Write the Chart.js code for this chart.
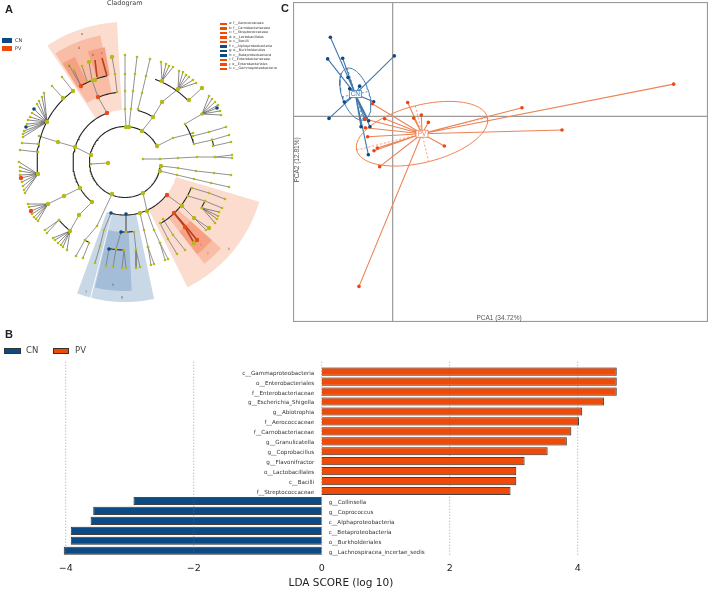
<!DOCTYPE html>
<html>
<head>
<meta charset="utf-8">
<title>Cladogram, LDA and PCA</title>
<script src="https://cdn.jsdelivr.net/npm/chart.js@4/dist/chart.umd.min.js"></script>
<style>
  html, body { margin: 0; padding: 0; background: #fff; overflow: hidden; }
  #page { position: relative; width: 709px; height: 590px; font-family: "DejaVu Sans", sans-serif; }
  canvas, .txt, .box { position: absolute; }
  .txt { white-space: nowrap; line-height: 1; }
  .panel { font: bold 11px "Liberation Sans", sans-serif; color: #222; }
</style>
</head>
<body>
<div id="page">
  <canvas id="cladoChart" width="290" height="320" style="left:0;top:0"></canvas>
  <canvas id="pcaChart" width="415" height="320" style="left:293px;top:2px"></canvas>
  <canvas id="ldaChart" width="709" height="265" style="left:0;top:325px"></canvas>
</div>
<script>
// --- LDA scores (panel B) ---
const pvTaxa = ["c__Gammaproteobacteria", "o__Enterobacteriales", "f__Enterobacteriaceae", "g__Escherichia_Shigella",
  "g__Abiotrophia", "f__Aerococcaceae", "f__Carnobacteriaceae", "g__Granulicatella", "g__Coprobacillus",
  "g__Flavonifractor", "o__Lactobacillales", "c__Bacilli", "f__Streptococcaceae"];
const pvScores = [4.61, 4.61, 4.61, 4.41, 4.07, 4.02, 3.90, 3.83, 3.53, 3.17, 3.04, 3.04, 2.95];
const cnTaxa = ["g__Collinsella", "g__Coprococcus", "c__Alphaproteobacteria", "c__Betaproteobacteria",
  "o__Burkholderiales", "g__Lachnospiracea_incertae_sedis"];
const cnScores = [-2.94, -3.57, -3.61, -3.92, -3.92, -4.03];

// --- PCA scores (panel C) ---
const cnPoints = [[-1.87, 2.38], [-1.95, 1.73], [-1.50, 1.75], [0.05, 1.82], [-1.34, 1.17], [-0.99, 0.91], [-1.29, 0.83],
  [-0.57, 0.44], [-1.45, 0.43], [-1.91, -0.06], [-0.84, -0.08], [-0.72, -0.13], [-0.95, -0.31], [-0.68, -0.31], [-0.73, -1.15]];
const pvPoints = [[0.45, 0.42], [0.86, 0.04], [0.63, -0.05], [1.07, -0.18], [1.55, -0.89], [3.88, 0.26], [8.43, 0.97],
  [5.08, -0.41], [-0.61, 0.38], [-0.24, -0.07], [-0.83, -0.08], [-0.82, -0.34], [-0.75, -0.61], [-0.46, -0.95],
  [-0.56, -1.03], [-0.39, -1.51], [-1.01, -5.11]];
const cnCentre = [-1.12, 0.67];
const pvCentre = [0.88, -0.52];
const cnAxes = [[0.24, -0.78], [0.40, 0.08]];
const pvAxes = [[1.96, 0.49], [0.20, -0.84]];

// --- Cladogram (panel A); y runs downwards ---
const cladoCentre = [125, 162];
// radius, start and end angle in degrees clockwise from the top
const cladoArcs = [[35.5, 98, 425], [52, 219.5, 340], [53, 128, 195], [53, 14, 32], [88, 262, 324], [88, 20, 46], [71, 57, 75],
  [70, 337, 354], [88, 330, 348], [88, 218.6, 228.7], [71, 111, 150], [70, 172.7, 183], [88, 180.6, 190.4],
  [88, 204, 207], [89, 116, 121], [90, 75, 80]];
const cladoBranches = [
  [[126, 127], [125, 109], [125, 91], [125, 74], [125, 55]],
  [[129, 127], [131, 109], [133, 91], [135, 74], [137, 57]],
  [[142, 131], [153, 117], [162, 102], [178, 89]],
  [[138, 109], [142, 93], [146, 76], [150, 59]],
  [[189, 100], [202, 88]],
  [[157, 146], [173, 138], [193, 133]],
  [[185, 124], [202, 114]],
  [[193, 136], [209, 132], [226, 127]],
  [[194, 144], [212, 140], [229, 135]],
  [[213, 146], [231, 142]],
  [[143, 159], [160, 159], [178, 158], [197, 157], [215, 157], [232, 155]],
  [[215, 157], [232, 158]],
  [[161, 166], [178, 168], [196, 171], [214, 173], [231, 175]],
  [[160, 171], [177, 175], [194, 179], [211, 183], [229, 187]],
  [[91, 164], [108, 163]],
  [[91, 155], [75, 147], [58, 142], [39, 136]],
  [[63, 98], [52, 86]],
  [[73, 91], [62, 77]],
  [[38, 144], [22, 143]],
  [[38, 152], [20, 150]],
  [[80, 188], [64, 196], [48, 204]],
  [[92, 202], [79, 215], [70, 231]],
  [[59, 220], [45, 230]],
  [[59, 220], [47, 233]],
  [[112, 194], [97, 226], [85, 240]],
  [[85, 240], [76, 256]],
  [[89, 243], [83, 258]],
  [[111, 213], [104, 230], [100, 246], [95, 263]],
  [[143, 193], [147, 211], [154, 230], [160, 243], [165, 260]],
  [[160, 243], [168, 259]],
  [[140, 213], [144, 230], [148, 247], [151, 265]],
  [[148, 247], [154, 264]],
  [[126, 214], [126, 232]],
  [[121, 232], [116, 249]],
  [[134, 232], [136, 250], [140, 267]],
  [[136, 250], [136, 268]],
  [[109, 249], [106, 266]],
  [[116, 249], [113, 267]],
  [[124, 250], [122, 268]],
  [[124, 250], [126, 268]],
  [[167, 195], [182, 206], [194, 218], [209, 228]],
  [[194, 218], [206, 230]],
  [[160, 223], [168, 239], [177, 254]],
  [[163, 219], [173, 235], [185, 250]],
  [[192, 188], [209, 193], [225, 199]],
  [[188, 196], [205, 201]],
  [[205, 201], [222, 208]],
  [[107, 113], [98, 97]],
  [[98, 97], [92, 80]],
  [[117, 92], [115, 74], [112, 57]],
  [[81, 86], [69, 65]],
  [[81, 86], [74, 70]],
  [[92, 80], [89, 62]],
  [[87, 81], [82, 66]]
];
// first point of each fan is its hub
const cladoFans = [
  [[162, 81], [161, 62], [166, 64], [169, 66], [173, 67]],
  [[178, 89], [179, 71], [183, 72], [186, 75], [189, 77], [193, 80], [196, 83]],
  [[202, 114], [209, 96], [212, 99], [215, 102], [218, 105], [217, 108], [220, 111], [221, 115]],
  [[47, 122], [44, 93], [42, 97], [39, 101], [37, 104], [34, 109], [32, 113], [30, 117], [28, 120], [27, 124], [26, 127], [24, 131], [23, 134], [23, 137]],
  [[38, 174], [19, 162], [20, 167], [20, 171], [20, 175], [21, 178], [22, 182], [23, 186], [24, 190], [25, 193]],
  [[48, 204], [28, 204], [29, 207], [31, 211], [32, 214], [34, 217], [36, 219], [38, 221]],
  [[70, 231], [53, 238], [55, 240], [58, 243], [61, 245], [63, 247], [67, 250]],
  [[202, 208], [219, 212], [218, 216], [217, 219], [215, 223]]
];
const cladoRedBranches = [
  [[97, 77], [95, 60]],
  [[107, 76], [102, 58]],
  [[174, 213], [185, 227], [194, 243]],
  [[174, 213], [188, 229], [197, 240]]
];
const cladoBigNodes = [[126, 127], [129, 127], [142, 131], [157, 146], [91, 155], [161, 166], [160, 171], [112, 194], [143, 193],
  [75, 147], [58, 142], [47, 122], [38, 174], [48, 204], [70, 231], [92, 202], [80, 188], [153, 117], [162, 102], [162, 81],
  [178, 89], [189, 100], [202, 88], [108, 163], [64, 196], [79, 215], [209, 228], [182, 206], [194, 218], [194, 243],
  [147, 211], [140, 213], [73, 91], [63, 98], [95, 80], [89, 62], [112, 57]];
const cladoRedNodes = [[107, 113], [98, 97], [81, 86], [167, 195], [174, 213], [185, 227], [197, 240], [21, 178], [31, 211]];
const cladoNavyNodes = [[34, 109], [26, 127], [217, 108], [111, 213], [126, 214], [121, 232], [109, 249]];
// r0, r1, a0, a1, level (0 light .. 2 dark)
const redWedges = [[52, 140, 326.3, 356.7, 0], [70, 129, 327.3, 349, 1], [88, 116.5, 327.5, 334.5, 2], [88, 116.5, 341.4, 350, 2],
  [53, 140, 106.5, 153.5, 0], [70, 129, 132, 142, 1], [88, 117, 132, 142, 2]];
const blueWedges = [[53, 140, 168, 194, 0], [53, 140, 194.4, 200, 0], [70, 129, 177, 193.5, 1]];
const wedgeLetters = [["e", 82, 34], ["d", 79, 48], ["a", 69, 66], ["b", 93, 55], ["c", 102, 53], ["f", 86, 292], ["g", 122, 297],
  ["h", 113, 285], ["k", 229, 249], ["j", 208, 253], ["i", 201, 245]];

const legendLetters = ["a", "b", "c", "d", "e", "f", "g", "h", "i", "j", "k"];
const legendNames = ["f__Aerococcaceae", "f__Carnobacteriaceae", "f__Streptococcaceae", "o__Lactobacillales", "c__Bacilli",
  "c__Alphaproteobacteria", "o__Burkholderiales", "c__Betaproteobacteria", "f__Enterobacteriaceae", "o__Enterobacteriales",
  "c__Gammaproteobacteria"];
const legendGroups = ["PV", "PV", "PV", "PV", "PV", "CN", "CN", "CN", "PV", "PV", "PV"];

const NAVY = "#0c4a86";
const RED = "#f04a08";
const YELLOW = "#b5bb12";
const toXY = ([x, y]) => ({ x, y });

// --- Page text and legends ---
const page = document.getElementById("page");
function addText(text, x, y, css, cls) {
  const el = document.createElement("div");
  el.className = "txt " + (cls || "");
  el.textContent = text;
  el.style.cssText = `left:${x}px;top:${y}px;` + (css || "");
  page.appendChild(el);
}
function addBox(x, y, w, h, fill, border) {
  const el = document.createElement("div");
  el.className = "box";
  el.style.cssText = `left:${x}px;top:${y}px;width:${w}px;height:${h}px;background:${fill};` +
    (border ? `box-sizing:border-box;border:1px solid ${border};` : "");
  page.appendChild(el);
}
addText("A", 5, 3, "", "panel");
addText("B", 5, 328, "", "panel");
addText("C", 281, 2, "", "panel");
addText("Cladogram", 107, 0, "font-size:6.5px;color:#444;");

addBox(2, 38, 10, 4.5, NAVY);
addText("CN", 15, 37.5, "font-size:5px;color:#333;");
addBox(2, 46, 10, 4.5, RED);
addText("PV", 15, 45.5, "font-size:5px;color:#333;");

legendNames.forEach((name, i) => {
  const y = 22.6 + i * 4.5;
  addBox(220, y, 6.5, 2.8, legendGroups[i] === "CN" ? NAVY : RED);
  addText(legendLetters[i] + ": " + name, 229, y - 0.2, "font-size:3.4px;color:#333;");
});

addBox(4, 348, 17, 5.5, NAVY, "#333");
addText("CN", 26, 346, "font-size:8.5px;color:#444;");
addBox(53, 348, 16, 5.5, RED, "#333");
addText("PV", 75, 346, "font-size:8.5px;color:#444;");

// --- Panel A: cladogram ---
function polar(r, deg) {
  const t = deg * Math.PI / 180;
  return { x: cladoCentre[0] + r * Math.sin(t), y: cladoCentre[1] - r * Math.cos(t) };
}
function arcPoints(r, a0, a1) {
  const pts = [];
  for (let a = a0; a < a1; a += 2) pts.push(polar(r, a));
  pts.push(polar(r, a1));
  return pts;
}
function wedgeDataset([r0, r1, a0, a1, level], colours) {
  return {
    data: arcPoints(r1, a0, a1).concat(arcPoints(r0, a0, a1).reverse()),
    showLine: true, fill: "shape", backgroundColor: colours[level], borderWidth: 0, pointRadius: 0, order: 100 - level
  };
}
const fanSegments = cladoFans.flatMap(fan => fan.slice(1).map(leaf => [fan[0], leaf]));
const allBranches = cladoBranches.concat(fanSegments);
const lineSet = (data, color, width, order) => ({
  data, showLine: true, borderColor: color, borderWidth: width, pointRadius: 0, order
});

const redShades = ["#fbdccf", "#f9bda6", "#f6a184"];
const blueShades = ["#c9d8e7", "#a3bdd8", "#a3bdd8"];
const cladoDatasets = [
  ...redWedges.map(w => wedgeDataset(w, redShades)),
  ...blueWedges.map(w => wedgeDataset(w, blueShades)),
  ...cladoBranches.map(b => lineSet(b.map(toXY), "#777", 0.8, 20)),
  ...fanSegments.map(b => lineSet(b.map(toXY), "#555", 0.7, 20)),
  ...cladoRedBranches.map(b => lineSet(b.map(toXY), "#b8401c", 1.6, 15)),
  ...cladoArcs.map(a => lineSet(arcPoints(a[0], a[1], a[2]), "#222", 1.1, 10)),
  { data: allBranches.flat().map(toXY), pointRadius: 1.3, backgroundColor: YELLOW, borderWidth: 0, order: 5 },
  { data: cladoBigNodes.map(toXY), pointRadius: 2.2, backgroundColor: YELLOW, borderWidth: 0, order: 4 },
  { data: cladoRedNodes.map(toXY), pointRadius: 2.2, backgroundColor: "#e8481a", borderWidth: 0, order: 3 },
  { data: cladoNavyNodes.map(toXY), pointRadius: 1.8, backgroundColor: NAVY, borderWidth: 0, order: 3 }
];

const wedgeLetterPlugin = {
  id: "wedgeLetters",
  afterDatasetsDraw(chart) {
    const { ctx, scales } = chart;
    ctx.save();
    ctx.font = '3.5px "DejaVu Sans"';
    ctx.fillStyle = "#666";
    ctx.textAlign = "center";
    ctx.textBaseline = "middle";
    wedgeLetters.forEach(([t, x, y]) => ctx.fillText(t, scales.x.getPixelForValue(x), scales.y.getPixelForValue(y)));
    ctx.restore();
  }
};

new Chart(document.getElementById("cladoChart"), {
  type: "scatter",
  data: { datasets: cladoDatasets },
  options: {
    responsive: false,
    animation: false,
    layout: { autoPadding: false },
    plugins: { legend: { display: false }, tooltip: { enabled: false } },
    scales: {
      x: { type: "linear", min: 0, max: 290, display: false },
      y: { type: "linear", min: 0, max: 320, reverse: true, display: false }
    }
  },
  plugins: [wedgeLetterPlugin]
});

// --- Panel C: PCA ---
function ellipsePoints(c, [u, v]) {
  const pts = [];
  for (let i = 0; i <= 72; i++) {
    const t = i * Math.PI / 36;
    pts.push({ x: c[0] + u[0] * Math.cos(t) + v[0] * Math.sin(t), y: c[1] + u[1] * Math.cos(t) + v[1] * Math.sin(t) });
  }
  return pts;
}
function groupSets(points, centre, axes, lineColor, pointColor) {
  const dashed = vec => ({
    data: [{ x: centre[0] - vec[0], y: centre[1] - vec[1] }, { x: centre[0] + vec[0], y: centre[1] + vec[1] }],
    showLine: true, borderColor: lineColor, borderWidth: 0.8, borderDash: [2, 2], pointRadius: 0
  });
  return [
    { data: points.map(toXY), pointRadius: 1.8, backgroundColor: pointColor, borderWidth: 0, order: 1 },
    { data: points.flatMap(p => [toXY(centre), toXY(p)]), showLine: true, borderColor: lineColor, borderWidth: 1.1, pointRadius: 0, order: 5 },
    { data: ellipsePoints(centre, axes), showLine: true, borderColor: lineColor, borderWidth: 1, pointRadius: 0, order: 5 },
    dashed(axes[0]),
    dashed(axes[1])
  ];
}

const pcaFramePlugin = {
  id: "pcaFrame",
  beforeDatasetsDraw(chart) {
    const { ctx, chartArea: a, scales } = chart;
    const x0 = scales.x.getPixelForValue(0);
    const y0 = scales.y.getPixelForValue(0);
    ctx.save();
    ctx.strokeStyle = "#9a9a9a";
    ctx.lineWidth = 1.2;
    ctx.strokeRect(a.left + 0.5, a.top + 0.5, a.width - 1, a.height - 1);
    ctx.beginPath();
    ctx.moveTo(x0, a.top);
    ctx.lineTo(x0, a.bottom);
    ctx.moveTo(a.left, y0);
    ctx.lineTo(a.right, y0);
    ctx.stroke();
    ctx.restore();
  },
  afterDatasetsDraw(chart) {
    const { ctx, chartArea: a, scales } = chart;
    ctx.save();
    ctx.font = '6.5px "Liberation Sans"';
    ctx.textAlign = "center";
    ctx.textBaseline = "middle";
    ctx.fillStyle = "#555";
    ctx.fillText("PCA1 (34.72%)", 206, a.bottom - 4);
    ctx.translate(4, 158);
    ctx.rotate(-Math.PI / 2);
    ctx.fillText("PCA2 (12.81%)", 0, 0);
    ctx.restore();
    [["CN", cnCentre, "#3f78ad"], ["PV", pvCentre, "#ee7f50"]].forEach(([label, c, color]) => {
      const px = scales.x.getPixelForValue(c[0]);
      const py = scales.y.getPixelForValue(c[1]);
      ctx.save();
      ctx.fillStyle = "#fff";
      ctx.strokeStyle = color;
      ctx.lineWidth = 0.8;
      ctx.fillRect(px - 6, py - 3.5, 12, 7);
      ctx.strokeRect(px - 6, py - 3.5, 12, 7);
      ctx.font = '6.5px "Liberation Sans"';
      ctx.textAlign = "center";
      ctx.textBaseline = "middle";
      ctx.fillStyle = color;
      ctx.fillText(label, px, py + 0.3);
      ctx.restore();
    });
  }
};

new Chart(document.getElementById("pcaChart"), {
  type: "scatter",
  data: {
    datasets: [
      ...groupSets(pvPoints, pvCentre, pvAxes, "#ee8355", "#f0450c"),
      ...groupSets(cnPoints, cnCentre, cnAxes, "#4178ab", NAVY)
    ]
  },
  options: {
    responsive: false,
    animation: false,
    layout: { autoPadding: false },
    plugins: { legend: { display: false }, tooltip: { enabled: false } },
    scales: {
      x: { type: "linear", min: -2.99, max: 9.46, display: false },
      y: { type: "linear", min: -6.18, max: 3.44, display: false }
    }
  },
  plugins: [pcaFramePlugin]
});

// --- Panel B: LDA bars ---
const ldaLabels = pvTaxa.concat(cnTaxa);
const ldaPv = pvScores.concat(cnTaxa.map(() => null));
const ldaCn = pvTaxa.map(() => null).concat(cnScores);

const ldaPlugin = {
  id: "ldaExtras",
  beforeDatasetsDraw(chart) {
    chart.ctx.save();
    chart.ctx.shadowColor = "#a8a8a8";
    chart.ctx.shadowBlur = 1.5;
  },
  afterDatasetsDraw(chart) {
    const { ctx, chartArea: a, scales } = chart;
    ctx.restore();
    ctx.save();
    // dotted guides at the ticks, reaching a little above the first bar
    ctx.strokeStyle = "rgba(110,110,110,0.8)";
    ctx.lineWidth = 0.8;
    ctx.setLineDash([1, 2]);
    scales.x.ticks.forEach(t => {
      const x = scales.x.getPixelForValue(t.value);
      ctx.beginPath();
      ctx.moveTo(x, a.top - 5);
      ctx.lineTo(x, a.bottom);
      ctx.stroke();
    });
    ctx.setLineDash([]);
    // taxon names sit on the far side of the zero line
    ctx.font = '5.6px "DejaVu Sans"';
    ctx.fillStyle = "#333";
    ctx.textBaseline = "middle";
    const x0 = scales.x.getPixelForValue(0);
    ldaLabels.forEach((name, i) => {
      const y = scales.y.getPixelForValue(i);
      ctx.textAlign = i < pvTaxa.length ? "right" : "left";
      ctx.fillText(name, i < pvTaxa.length ? x0 - 7.5 : x0 + 7, y + 1.5);
    });
    ctx.restore();
  }
};

new Chart(document.getElementById("ldaChart"), {
  type: "bar",
  data: {
    labels: ldaLabels,
    datasets: [
      { label: "PV", data: ldaPv, backgroundColor: RED, borderColor: "#3c3c3c", borderWidth: 1, grouped: false, barPercentage: 0.82, categoryPercentage: 1 },
      { label: "CN", data: ldaCn, backgroundColor: NAVY, borderColor: "#3c3c3c", borderWidth: 1, grouped: false, barPercentage: 0.82, categoryPercentage: 1 }
    ]
  },
  options: {
    indexAxis: "y",
    responsive: false,
    animation: false,
    layout: { padding: { left: 52.9, right: 80.1, top: 41.7, bottom: 0 } },
    plugins: { legend: { display: false }, tooltip: { enabled: false } },
    scales: {
      x: {
        type: "linear", min: -4.2, max: 4.8,
        afterFit: scale => { scale.height = 34.3; },
        afterBuildTicks: scale => { scale.ticks = [-4, -2, 0, 2, 4].map(value => ({ value })); },
        grid: { display: false, drawTicks: false },
        border: { display: false },
        ticks: {
          padding: 7, color: "#222", maxRotation: 0,
          font: { family: "DejaVu Sans", size: 9.5 },
          callback: v => (v < 0 ? "\u2212" + (-v) : String(v))
        },
        title: { display: true, text: "LDA SCORE (log 10)", color: "#222", padding: 0, font: { family: "DejaVu Sans", size: 10.5 } }
      },
      y: { display: false }
    }
  },
  plugins: [ldaPlugin]
});
</script>
</body>
</html>
